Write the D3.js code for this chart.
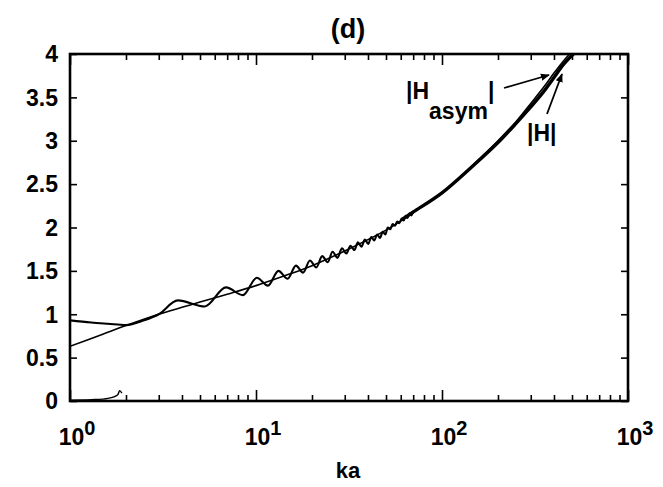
<!DOCTYPE html>
<html>
<head>
<meta charset="utf-8">
<script src="https://cdn.jsdelivr.net/npm/d3@7"></script>
<style>
  html, body { margin: 0; padding: 0; background: #fff; }
  svg { display: block; }
  text { font-family: "Liberation Sans", Arial, sans-serif; font-weight: bold; fill: #000; }
</style>
</head>
<body>
<script>
// ---------- data ----------
const asymKa  = [1, 1.5, 2, 3, 4, 5, 7, 10, 15, 20, 30, 50, 70, 100, 150, 200, 250, 300, 350, 400, 450, 500];
const asymVal = [0.63, 0.77, 0.87, 1.00, 1.08, 1.14, 1.23, 1.33, 1.46, 1.56, 1.73, 1.97, 2.17, 2.40, 2.74, 3.00, 3.22, 3.43, 3.61, 3.78, 3.92, 4.03];

// |H| : start, then successive peaks / troughs of the oscillation
const hKa  = [1.0, 1.3, 1.6, 2.0, 2.5, 3.0, 3.8, 5.3, 6.9, 8.5, 10.1, 11.6, 13.2, 14.8, 16.4, 17.9, 19.5, 21.1,
              22.7, 24.3, 25.8, 27.4, 29.0, 30.6, 32.2, 33.8, 35.3, 36.9, 38.5, 40.1, 41.7, 43.2, 44.8, 46.4,
              48.0, 49.6, 51.1, 52.7, 54.3, 55.9, 57.4, 59.0, 60.6, 62.2, 63.8, 65.3, 66.9, 68.5, 70.1];
const hVal = [0.93, 0.905, 0.89, 0.875, 0.93, 1.00, 1.16, 1.09, 1.31, 1.22, 1.42, 1.33, 1.50, 1.41, 1.56, 1.48, 1.62, 1.54,
              1.67, 1.60, 1.72, 1.65, 1.76, 1.70, 1.79, 1.74, 1.83, 1.78, 1.86, 1.81, 1.89, 1.85, 1.92, 1.88,
              1.95, 1.92, 2.00, 1.98, 2.04, 2.02, 2.07, 2.05, 2.10, 2.08, 2.135, 2.11, 2.165, 2.14, 2.19];
// |H| beyond ka ~ 60 : oscillations too dense to resolve, drawn as a thick band
const hTailKa  = [60.6, 70.1, 100, 150, 200, 250, 300, 350, 400, 450, 520];
const hTailVal = [2.09, 2.18, 2.40, 2.73, 2.98, 3.20, 3.39, 3.56, 3.73, 3.88, 4.02];

// small trace near zero at low ka
const lowKa  = [1.0, 1.3, 1.6, 1.8, 1.85, 1.9];
const lowVal = [0.01, 0.015, 0.03, 0.07, 0.12, 0.09];

const yTicks = [0, 0.5, 1, 1.5, 2, 2.5, 3, 3.5, 4];
const yTickLabels = ["0", "0.5", "1", "1.5", "2", "2.5", "3", "3.5", "4"];
const xMajor = [1, 10, 100, 1000];
const xMajorExp = ["0", "1", "2", "3"];

// ---------- layout ----------
const W = 663, H = 487;
const m = { left: 70, right: 35, top: 54, bottom: 86 };
const iw = W - m.left - m.right, ih = H - m.top - m.bottom;

const svg = d3.select("body").append("svg").attr("width", W).attr("height", H);
const g = svg.append("g").attr("transform", `translate(${m.left},${m.top})`);

const x = d3.scaleLog().domain([1, 1000]).range([0, iw]);
const y = d3.scaleLinear().domain([0, 4]).range([ih, 0]);

svg.append("defs").append("clipPath").attr("id", "clip")
  .append("rect").attr("width", iw).attr("height", ih);

// minor ticks
const xMinor = [];
for (let d = 1; d < 1000; d *= 10) for (let k = 2; k <= 9; k++) xMinor.push(d * k);

// axes with inward ticks
const axB = d3.axisBottom(x).tickValues(xMinor).tickSize(-6).tickFormat("");
const axBM = d3.axisBottom(x).tickValues(xMajor).tickSize(-11).tickFormat("");
const axT = d3.axisTop(x).tickValues(xMinor).tickSize(-6).tickFormat("");
const axTM = d3.axisTop(x).tickValues(xMajor).tickSize(-11).tickFormat("");
const axL = d3.axisLeft(y).tickValues(yTicks).tickSize(-7).tickFormat("");
const axR = d3.axisRight(y).tickValues(yTicks).tickSize(-7).tickFormat("");

function styleAxis(sel) {
  sel.select(".domain").remove();
  sel.selectAll(".tick line").attr("stroke", "#000").attr("stroke-width", 1.6);
}
g.append("g").attr("transform", `translate(0,${ih})`).call(axB).call(styleAxis);
g.append("g").attr("transform", `translate(0,${ih})`).call(axBM).call(styleAxis);
g.append("g").call(axT).call(styleAxis);
g.append("g").call(axTM).call(styleAxis);
g.append("g").call(axL).call(styleAxis);
g.append("g").attr("transform", `translate(${iw},0)`).call(axR).call(styleAxis);

// frame
g.append("rect").attr("width", iw).attr("height", ih)
  .attr("fill", "none").attr("stroke", "#000").attr("stroke-width", 2.6);

// y tick labels
g.selectAll(".ylab").data(yTicks).enter().append("text")
  .attr("x", -12).attr("y", d => y(d)).attr("dy", "0.36em")
  .attr("text-anchor", "end").style("font-size", "23px")
  .text((d, i) => yTickLabels[i]);

// x tick labels 10^n
const xl = g.selectAll(".xlab").data(xMajor).enter().append("text")
  .attr("x", d => x(d) + 7).attr("y", ih + 44)
  .attr("text-anchor", "middle").style("font-size", "23px");
xl.append("tspan").text("10");
xl.append("tspan").attr("dy", -10).style("font-size", "20px").text((d, i) => xMajorExp[i]);

// axis title & panel title
svg.append("text").attr("x", 348).attr("y", 478).attr("text-anchor", "middle")
  .style("font-size", "22px").text("ka");
svg.append("text").attr("x", 348).attr("y", 38).attr("text-anchor", "middle")
  .style("font-size", "27px").text("(d)");

// ---------- curves ----------
const line = d3.line().x(d => x(d[0])).y(d => y(d[1])).curve(d3.curveMonotoneX);
const smooth = d3.line().x(d => x(d[0])).y(d => y(d[1])).curve(d3.curveCatmullRom);
const plot = g.append("g").attr("clip-path", "url(#clip)");

plot.append("path").datum(d3.zip(asymKa, asymVal)).attr("d", smooth)
  .attr("fill", "none").attr("stroke", "#000").attr("stroke-width", 1.6);

plot.append("path").datum(d3.zip(hKa, hVal)).attr("d", line)
  .attr("fill", "none").attr("stroke", "#000").attr("stroke-width", 2.1);

plot.append("path").datum(d3.zip(hTailKa, hTailVal)).attr("d", smooth)
  .attr("fill", "none").attr("stroke", "#000").attr("stroke-width", 3.4);

plot.append("path").datum(d3.zip(lowKa, lowVal)).attr("d", smooth)
  .attr("fill", "none").attr("stroke", "#000").attr("stroke-width", 1.4);

// ---------- annotations ----------
const defs = svg.select("defs");
defs.append("marker").attr("id", "arr").attr("viewBox", "0 0 10 10")
  .attr("refX", 9).attr("refY", 5).attr("markerWidth", 5).attr("markerHeight", 5)
  .attr("orient", "auto")
  .append("path").attr("d", "M0,1 L10,5 L0,9 Z").attr("fill", "#000");

const ha = svg.append("text").attr("x", 406).attr("y", 99).style("font-size", "23px");
ha.append("tspan").text("|H");
ha.append("tspan").attr("dy", 20).style("font-size", "23px").text("asym");
ha.append("tspan").attr("dy", -20).text("|");

svg.append("line").attr("x1", 504).attr("y1", 88).attr("x2", 549).attr("y2", 75)
  .attr("stroke", "#000").attr("stroke-width", 1.8).attr("marker-end", "url(#arr)");

svg.append("text").attr("x", 527).attr("y", 141).style("font-size", "23px").text("|H|");
svg.append("line").attr("x1", 547).attr("y1", 114).attr("x2", 562).attr("y2", 74)
  .attr("stroke", "#000").attr("stroke-width", 1.8).attr("marker-end", "url(#arr)");
</script>
</body>
</html>
